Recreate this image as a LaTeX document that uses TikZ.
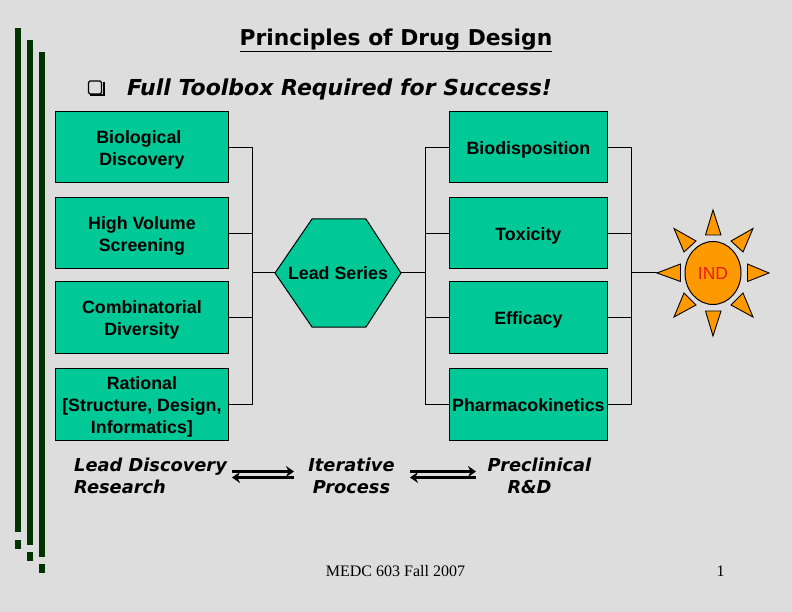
\documentclass[tikz,border=0pt]{standalone}
\usepackage{fontspec}
\setmainfont{Liberation Sans}
\newfontfamily\verd{DejaVu Sans}
\newfontfamily\tms{Liberation Serif}
\usetikzlibrary{arrows.meta,shapes.geometric}
\definecolor{bg}{HTML}{DDDDDD}
\definecolor{teal}{HTML}{00C896}
\definecolor{bar}{HTML}{003300}
\definecolor{sun}{HTML}{FF9900}
\definecolor{indred}{HTML}{E81C1C}
\newcommand\lowered[1]{\raisebox{-3pt}[\height][\depth]{\begin{tabular}{@{}c@{}}#1\end{tabular}}}
\tikzset{
 x=1pt,y=-1pt,
 box/.style={draw=black,line width=1pt,outer sep=0pt,fill=teal,inner sep=0pt,anchor=north west,align=center,font=\fontsize{17.8}{22}\selectfont\bfseries},
 wire/.style={draw=black,line width=1pt},
 bartile/.style={fill=bar,draw=none},
 ray/.style={draw=black,line width=0.9pt,fill=sun,line join=miter},
 ital/.style={font=\verd\fontsize{17.8}{22}\selectfont\bfseries\itshape,align=left,inner sep=0pt},
 twoway/.style={line width=2.6pt,black,-{Stealth[length=8pt,width=11pt]}},
}
\begin{document}
\begin{tikzpicture}
\useasboundingbox[fill=bg] (0,0) rectangle (792,612);
% decorative bars
\fill[bartile] (15,28) rectangle (21,532);
\fill[bartile] (15,540) rectangle (21,549);
\fill[bartile] (27,40) rectangle (33,545);
\fill[bartile] (27,552) rectangle (33,561);
\fill[bartile] (39,52) rectangle (45,557);
\fill[bartile] (39,564) rectangle (45,573);
% titles
\node[font=\verd\fontsize{21.8}{24}\selectfont\bfseries,inner sep=0pt] (title) at (396,40.5) {\underline{Principles of Drug Design}};
\draw[line width=2pt,black] (103.5,82) -- (103.5,95.5) -- (90,95.5);
\node[draw=black,line width=1.2pt,fill=bg,minimum width=13pt,minimum height=13pt,inner sep=0pt,rounded corners=1.5pt] (chk) at (95,87.5) {};
\node[ital,font=\verd\fontsize{22}{24}\selectfont\bfseries\itshape,anchor=west] (sub) at (127,89.5) {Full Toolbox Required for Success!};
% left boxes
\node[box,minimum width=173pt,minimum height=71.6pt] (b1) at (55.4,111.4) {\lowered{\hspace*{-6pt}Biological\\Discovery}};
\node[box,minimum width=173pt,minimum height=71.6pt] (b2) at (55.4,197.4) {\lowered{High Volume\\Screening}};
\node[box,minimum width=173pt,minimum height=71.6pt] (b3) at (55.4,281.4) {\lowered{Combinatorial\\Diversity}};
\node[box,minimum width=173pt,minimum height=71.6pt] (b4) at (55.4,368.4) {\lowered{Rational\\{[}Structure, Design,\\Informatics{]}}};
% right boxes
\node[box,minimum width=158pt,minimum height=71.6pt] (c1) at (449.4,111.4) {\lowered{Biodisposition}};
\node[box,minimum width=158pt,minimum height=71.6pt] (c2) at (449.4,197.4) {\lowered{Toxicity}};
\node[box,minimum width=158pt,minimum height=71.6pt] (c3) at (449.4,281.4) {\lowered{Efficacy}};
\node[box,minimum width=158pt,minimum height=71.6pt] (c4) at (449.4,368.4) {\lowered{Pharmacokinetics}};
% hexagon
\coordinate (hl) at (275,273);
\coordinate (hr) at (401,273);
\draw[wire,fill=teal] (hl) -- (312,219) -- (366,219) -- (hr) -- (366,327) -- (312,327) -- cycle;
\node[inner sep=0pt,font=\fontsize{17.8}{22}\selectfont\bfseries] (lead) at (338,273) {Lead Series};
% buses
\coordinate (la) at (252.5,147.2);
\coordinate (lb) at (252.5,233.2);
\coordinate (lc) at (252.5,317.2);
\coordinate (ld) at (252.5,404.2);
\coordinate (lm) at (252.5,273);
\coordinate (ra) at (425,147.2);
\coordinate (rb) at (425,233.2);
\coordinate (rc) at (425,317.2);
\coordinate (rd) at (425,404.2);
\coordinate (rm) at (425,273);
\coordinate (sa) at (631,147.2);
\coordinate (sb) at (631,233.2);
\coordinate (sc) at (631,317.2);
\coordinate (sd) at (631,404.2);
\coordinate (sm) at (631,273);
\coordinate (sl) at (657,273);
\draw[wire] (b1.east) -- (la) -- (ld) -- (b4.east);
\draw[wire] (b2.east) -- (lb);
\draw[wire] (b3.east) -- (lc);
\draw[wire] (lm) -- (hl);
\draw[wire] (hr) -- (rm);
\draw[wire] (c1.west) -- (ra) -- (rd) -- (c4.west);
\draw[wire] (c2.west) -- (rb);
\draw[wire] (c3.west) -- (rc);
\draw[wire] (c1.east) -- (sa) -- (sd) -- (c4.east);
\draw[wire] (c2.east) -- (sb);
\draw[wire] (c3.east) -- (sc);
\draw[wire] (sm) -- (sl);
% sun
\node[draw=black,line width=1pt,fill=sun,ellipse,minimum width=56pt,minimum height=63pt,inner sep=0pt,text=indred,font=\fontsize{17.5}{20}\selectfont] (ind) at (713,273) {IND};
\draw[ray] (713,210) -- (705.5,235) -- (721,235) -- cycle;
\draw[ray] (713,336) -- (705.5,311) -- (721,311) -- cycle;
\draw[ray] (657,273) -- (680.5,264) -- (680.5,281.5) -- cycle;
\draw[ray] (769,273) -- (747.5,264) -- (747.5,281.5) -- cycle;
\draw[ray] (674,228.5) -- (696,241) -- (684,252) -- cycle;
\draw[ray] (753,228.5) -- (731,241) -- (743,252) -- cycle;
\draw[ray] (674,317) -- (684,293) -- (696,305) -- cycle;
\draw[ray] (753,317) -- (743,293) -- (731,305) -- cycle;
% bottom labels
\node[ital,anchor=north west] (ld1) at (74,457.5) {Lead Discovery\\Research};
\node[ital,align=center,anchor=north] (ip) at (351.5,457.5) {Iterative\\Process};
\node[ital,align=center,anchor=north] (pc) at (539.5,457.5) {Preclinical\\\hspace*{-20pt}R\&D};
% two-way arrows
\coordinate (a1) at (232,471.5);
\coordinate (a2) at (294,471.5);
\coordinate (a3) at (294,477.5);
\coordinate (a4) at (232,477.5);
\coordinate (e1) at (410,471.5);
\coordinate (e2) at (476,471.5);
\coordinate (e3) at (476,477.5);
\coordinate (e4) at (410,477.5);
\draw[twoway] (a1) -- (a2);
\draw[twoway] (a3) -- (a4);
\draw[twoway] (e1) -- (e2);
\draw[twoway] (e3) -- (e4);
% footer
\node[font=\tms\fontsize{16}{18}\selectfont,inner sep=0pt] (foot) at (395.5,571) {MEDC 603 Fall 2007};
\node[font=\tms\fontsize{16}{18}\selectfont,inner sep=0pt] (pg) at (720.5,571) {1};
\end{tikzpicture}
\end{document}
